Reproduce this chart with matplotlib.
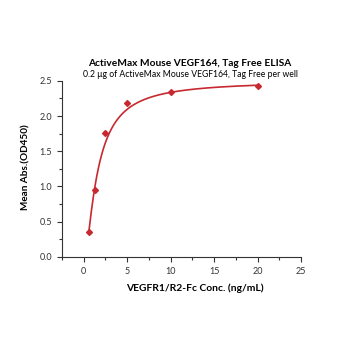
import numpy as np
import matplotlib
matplotlib.use("Agg")
import matplotlib.pyplot as plt
from matplotlib.ticker import MultipleLocator, FormatStrFormatter

plt.rcParams['font.family'] = ['Lato', 'DejaVu Sans']

conc = [0.625, 1.25, 2.5, 5, 10, 20]
absorb = [0.35, 0.95, 1.76, 2.19, 2.34, 2.42]
title = "ActiveMax Mouse VEGF164, Tag Free ELISA"
subtitle = "0.2 \u03bcg of ActiveMax Mouse VEGF164, Tag Free per well"
xlabel = "VEGFR1/R2-Fc Conc. (ng/mL)"
ylabel = "Mean Abs.(OD450)"

# 4-parameter logistic fit parameters
fit_bottom = -0.2
fit_top = 2.5
fit_ec50 = 1.51
fit_hill = 1.45

x = np.array(conc, float)
y = np.array(absorb, float)
xs = np.linspace(x.min(), x.max(), 400)
ys = fit_top + (fit_bottom - fit_top) / (1 + (xs / fit_ec50) ** fit_hill)

color = "#c62a30"
fig = plt.figure(figsize=(3.5, 3.5), dpi=100)
ax = fig.add_axes([0.177, 0.266, 0.683, 0.503])
ax.plot(xs, ys, color=color, lw=1.2)
ax.plot(x, y, 'D', color=color, ms=3, ls='none')
ax.set_xlim(-2.5, 25)
ax.set_ylim(0, 2.5)
ax.xaxis.set_major_locator(MultipleLocator(5))
ax.xaxis.set_minor_locator(MultipleLocator(2.5))
ax.yaxis.set_major_locator(MultipleLocator(0.5))
ax.yaxis.set_minor_locator(MultipleLocator(0.25))
ax.yaxis.set_major_formatter(FormatStrFormatter('%.1f'))
for s in ['top', 'right']:
    ax.spines[s].set_visible(False)
for s in ['left', 'bottom']:
    ax.spines[s].set_color('#333333')
    ax.spines[s].set_linewidth(0.8)
ax.tick_params(which='major', length=3.5, width=0.8, labelsize=6.5, colors='#333333', labelcolor='#333333')
ax.tick_params(which='minor', length=2, width=0.8, colors='#333333')
fig.text(0.557, 0.177, xlabel, ha='center', va='center', fontsize=7.4, fontweight='bold')
fig.text(0.074, 0.523, ylabel, ha='center', va='center', rotation=90, fontsize=7.2, fontweight='bold')
fig.text(0.543, 0.82, title, ha='center', va='center', fontsize=7.3, fontweight='bold')
fig.text(0.543, 0.786, subtitle, ha='center', va='center', fontsize=6.2)
fig.savefig("out.png", dpi=100, facecolor='white')
